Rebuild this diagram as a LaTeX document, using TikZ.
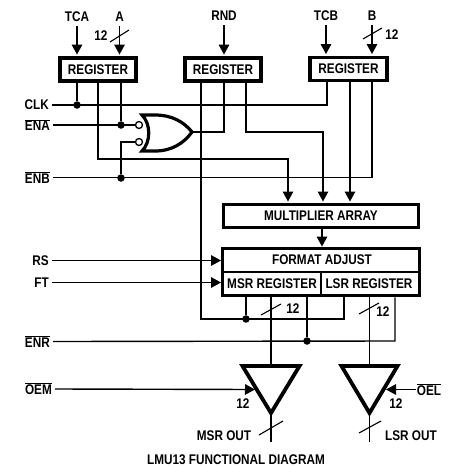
\documentclass[tikz,border=0pt]{standalone}
\usepackage{fontspec}
\setmainfont{Liberation Sans}[FakeStretch=0.84]
\usetikzlibrary{arrows.meta,calc}
\newcommand{\ovl}[1]{$\overline{\mbox{#1}}$}
\tikzset{
  lbl/.style={font=\fontsize{14}{15}\selectfont\bfseries,inner sep=0pt,text=black},
  thickbox/.style={draw=black,line width=3.9pt,inner sep=0pt,fill=white},
  wire/.style={line width=1.4pt,line join=miter},
  arr/.style={wire,-{Triangle[length=10pt,width=10.5pt]}},
  slashmark/.style={line width=1.1pt},
  dot/.style={circle,fill=black,inner sep=0pt,minimum size=7.5pt},
  bubble/.style={circle,draw=black,line width=1.3pt,fill=white,inner sep=0pt,minimum size=7pt},
  gateline/.style={line width=3.2pt,line join=miter,fill=white},
}
\begin{document}
\begin{tikzpicture}[x=1pt,y=-1pt]
\useasboundingbox (0,0) rectangle (454,467);
% ---- text labels
\node[lbl] (tca) at (77,17) {TCA};
\node[lbl] (a) at (119.5,17) {A};
\node[lbl] (rnd) at (224,16) {RND};
\node[lbl] (tcb) at (326,16) {TCB};
\node[lbl] (b) at (372,16) {B};
\node[lbl] (n12a) at (101,36) {12};
\node[lbl] (n12b) at (392,35) {12};
\node[lbl,anchor=east] (clk) at (49,105) {CLK};
\node[lbl,anchor=east] (ena) at (50,125) {\ovl{ENA}};
\node[lbl,anchor=east] (enb) at (50,177.5) {\ovl{ENB}};
\node[lbl,anchor=east] (rs) at (49,260.5) {RS};
\node[lbl,anchor=east] (ft) at (49,282.5) {FT};
\node[lbl,anchor=east] (enr) at (50,341.5) {\ovl{ENR}};
\node[lbl,anchor=east] (oem) at (52,389) {\ovl{OEM}};
\node[lbl] (oel) at (429,390) {\ovl{OEL}};
\node[lbl] (n12c) at (293,309) {12};
\node[lbl] (n12d) at (383,312) {12};
\node[lbl] (n12e) at (243,404) {12};
\node[lbl] (n12f) at (396,404) {12};
\node[lbl] (msrout) at (224,436) {MSR OUT};
\node[lbl] (lsrout) at (411,436) {LSR OUT};
\node[lbl] (title) at (236,460) {LMU13 FUNCTIONAL DIAGRAM};
% ---- routing coordinates
\coordinate (gateOut) at (192,132);
\coordinate (mulA) at (288,159);
\coordinate (mulB) at (323,132);
\coordinate (cornerA) at (98,159);
\coordinate (cornerR) at (246,132);
\coordinate (rndDown) at (201,319);
\coordinate (lsrTap) at (344,319);
\coordinate (enrEnd) at (395,341);
\coordinate (busM) at (271,365);
\coordinate (busL) at (369.5,365);
\coordinate (tipM) at (271,413);
\coordinate (tipL) at (369.5,413);
\coordinate (endM) at (271,442);
\coordinate (endL) at (369.5,442);
\coordinate (oemTip) at (255,389.5);
\coordinate (oelTip) at (386,389.5);
\coordinate (oelStart) at (416,389.5);
\coordinate (b1) at (139,125);
\coordinate (b2) at (139,142);
% ---- boxes (drawn over wire ends)
\node[thickbox,minimum width=76pt,minimum height=23pt] (regA) at (98,69.5) {};
\node[thickbox,minimum width=76pt,minimum height=23pt] (regR) at (223,69.5) {};
\node[thickbox,minimum width=77pt,minimum height=23pt] (regB) at (348.5,69) {};
\node[thickbox,minimum width=195pt,minimum height=23pt] (mul) at (321,216) {};
\node[thickbox,minimum width=197pt,minimum height=47pt] (fmt) at (321,272) {};
\node[lbl] at (regA) {REGISTER};
\node[lbl] at (regR) {REGISTER};
\node[lbl] at (regB) {REGISTER};
\node[lbl] at (mul) {MULTIPLIER ARRAY};
\node[lbl] (fmtt) at (322,260) {FORMAT ADJUST};
\node[lbl] (msr) at (272,284) {MSR REGISTER};
\node[lbl] (lsr) at (369,284) {LSR REGISTER};
\draw[line width=1.3pt] (fmt.west |- 0,272) -- (fmt.east |- 0,272);
\draw[line width=1.3pt] (321,272) -- (fmt.south -| 321,0);
% ---- input arrows
\draw[arr,shorten >=1.5pt,shorten <=4pt] (tca.south) -- (tca.south |- regA.north);
\draw[arr,shorten >=1.5pt,shorten <=4pt] (a.south) -- (a.south |- regA.north);
\draw[arr,shorten >=1.5pt,shorten <=4pt] (rnd.south) -- (rnd.south |- regR.north);
\draw[arr,shorten >=1.5pt,shorten <=4pt] (tcb.south) -- (tcb.south |- regB.north);
\draw[arr,shorten >=1.5pt,shorten <=4pt] (b.south) -- (b.south |- regB.north);
\draw[slashmark] (110,42) -- (129,30);
\draw[slashmark] (363,39) -- (382,28);
% ---- dots
\node[dot] (dClk) at (77,105) {};
\node[dot] (dEna) at (121,125) {};
\node[dot] (dEnb) at (121,178) {};
\node[dot] (dR1) at (246,319) {};
\node[dot] (dR2) at (307,341) {};
% ---- control wires
\draw[wire] (clk.east) ++(3,0) -- (clk.east -| 327,0) -- (327,0 |- regB.south);
\draw[wire] (dClk) -- (dClk |- regA.south);
\draw[wire] (ena.east) ++(3,0) -- (b1);
\draw[wire] (dEna) -- (dEna |- regA.south);
\draw[wire] (b2) -- (dEnb |- b2) -- (dEnb);
\draw[wire] (enb.east) ++(3,0) -- (enb.east -| 372,0) -- (372,0 |- regB.south);
\draw[wire] (gateOut) -- (224,132) -- (224,0 |- regR.south);
\draw[arr] (98,0 |- regA.south) -- (cornerA) -- (mulA) -- (288,201.5);
\draw[arr] (246,0 |- regR.south) -- (cornerR) -- (mulB) -- (323,201.5);
\draw[arr] (350,0 |- regB.south) -- (350,201.5);
\draw[arr] (mul.south -| 322,0) -- (fmt.north -| 322,0);
\draw[wire] (201,0 |- regR.south) -- (rndDown) -- (lsrTap) -- (fmt.south -| lsrTap);
\draw[wire] (dR1) -- (fmt.south -| dR1);
\draw[wire] (enr.east) ++(3,0) -- (enrEnd) -- (fmt.south -| enrEnd);
\draw[wire] (dR2) -- (fmt.south -| dR2);
\draw[arr,shorten >=-0.5pt] (rs.east) ++(3,0) -- (fmt.west |- rs.east);
\draw[arr,shorten >=-0.5pt] (ft.east) ++(3,0) -- (fmt.west |- ft.east);
% ---- OR gate
\draw[gateline] (142,115) .. controls (151,124) and (151,142) .. (142,151)
  -- (155,151) .. controls (172,151) and (184,143) .. (gateOut)
  .. controls (184,122) and (172,115) .. (155,115) -- cycle;
\node[bubble] (bub1) at (b1) {};
\node[bubble] (bub2) at (b2) {};
% ---- output buffers
\draw[wire] (fmt.south -| busM) -- (busM);
\draw[wire] (fmt.south -| busL) -- (busL);
\draw[gateline,line width=3.8pt] (242.5,366) -- (299.5,366) -- (tipM) -- cycle;
\draw[gateline,line width=3.8pt] (341.5,366) -- (397.5,366) -- (tipL) -- cycle;
\draw[wire] (tipM) -- (endM);
\draw[wire] (tipL) -- (endL);
\draw[arr] (oem.east) ++(3,0) -- (oemTip);
\draw[arr] (oelStart) -- (oelTip);
\draw[slashmark] (261,315) -- (281,304);
\draw[slashmark] (359,314) -- (379,303);
\draw[slashmark] (259,435) -- (283,421);
\draw[slashmark] (359,433) -- (381,421);
\end{tikzpicture}
\end{document}
